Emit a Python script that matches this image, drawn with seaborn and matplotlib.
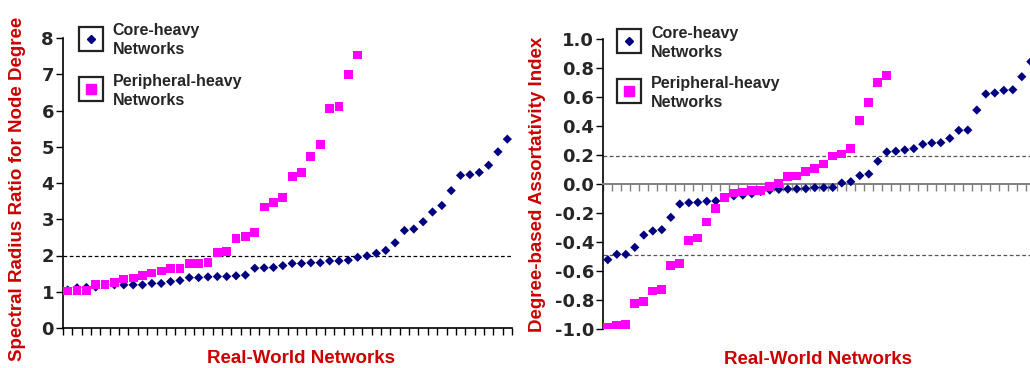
import numpy as np
import pandas as pd
import matplotlib
matplotlib.use("Agg")
import matplotlib.pyplot as plt
from matplotlib.lines import Line2D
from matplotlib.legend_handler import HandlerTuple
import seaborn as sns

# Spectral radius ratio for node degree, networks sorted in ascending order
spectral_core = [1.05, 1.11, 1.12, 1.13, 1.19, 1.19, 1.19, 1.19, 1.19, 1.23,
                 1.23, 1.28, 1.31, 1.39, 1.39, 1.41, 1.42, 1.42, 1.44, 1.46,
                 1.65, 1.66, 1.67, 1.72, 1.78, 1.78, 1.80, 1.80, 1.85, 1.85,
                 1.87, 1.95, 1.99, 2.06, 2.14, 2.35, 2.69, 2.73, 2.93, 3.20,
                 3.38, 3.79, 4.21, 4.23, 4.29, 4.49, 4.86, 5.21]
spectral_peripheral = [1.02, 1.03, 1.04, 1.19, 1.20, 1.26, 1.35, 1.38, 1.44, 1.52,
                       1.57, 1.65, 1.65, 1.77, 1.79, 1.80, 2.09, 2.12, 2.46, 2.52,
                       2.63, 3.34, 3.47, 3.60, 4.17, 4.28, 4.74, 5.07, 6.06, 6.12,
                       7.00, 7.53]

# Degree-based assortativity index, networks sorted in ascending order
assort_core = [-0.520, -0.483, -0.483, -0.435, -0.350, -0.322, -0.313, -0.228,
               -0.136, -0.127, -0.125, -0.117, -0.115, -0.090, -0.080, -0.075,
               -0.065, -0.050, -0.040, -0.035, -0.033, -0.032, -0.030, -0.023,
               -0.023, -0.022, 0.009, 0.018, 0.060, 0.071, 0.159, 0.223,
               0.228, 0.237, 0.246, 0.276, 0.285, 0.287, 0.317, 0.372,
               0.374, 0.512, 0.623, 0.630, 0.648, 0.652, 0.742, 0.846]
assort_peripheral = [-0.986, -0.975, -0.966, -0.823, -0.810, -0.736, -0.724, -0.561,
                     -0.547, -0.389, -0.370, -0.260, -0.168, -0.092, -0.060, -0.053,
                     -0.044, -0.044, -0.014, 0.008, 0.053, 0.057, 0.087, 0.110,
                     0.140, 0.195, 0.209, 0.246, 0.439, 0.565, 0.700, 0.752]

series_names = ["Core-heavy", "Peripheral-heavy"]
legend_labels = ["Core-heavy\nNetworks", "Peripheral-heavy\nNetworks"]
spectral_ticks = [0, 1, 2, 3, 4, 5, 6, 7, 8]
assort_ticks = [1.0, 0.8, 0.6, 0.4, 0.2, 0.0, -0.2, -0.4, -0.6, -0.8, -1.0]
spectral_threshold = [2.0]
assort_thresholds = [0.195, -0.49]
n_networks = 48

NAVY = "#000080"
MAGENTA = "#FF00FF"
RED = "#CC0000"

sns.set_theme(style="white")
plt.rcParams["font.family"] = ["Liberation Sans", "DejaVu Sans"]
plt.rcParams["font.weight"] = "bold"


def long_frame(core, peripheral):
    return pd.concat([
        pd.DataFrame({"network": np.arange(len(core)), "value": core,
                      "group": series_names[0]}),
        pd.DataFrame({"network": np.arange(len(peripheral)), "value": peripheral,
                      "group": series_names[1]}),
    ], ignore_index=True)


def draw_points(ax, df):
    sns.scatterplot(data=df, x="network", y="value", hue="group", style="group",
                    palette={series_names[0]: NAVY, series_names[1]: MAGENTA},
                    markers={series_names[0]: "D", series_names[1]: "s"},
                    size="group", sizes={series_names[0]: 22, series_names[1]: 40},
                    linewidth=0, legend=False, ax=ax, zorder=3)


def boxed_legend(ax, anchor):
    frame = Line2D([], [], ls="none", marker="s", markersize=17.5,
                   markerfacecolor="none", markeredgecolor="#222222",
                   markeredgewidth=1.6)
    core = Line2D([], [], ls="none", marker="D", markersize=4.2,
                  markerfacecolor=NAVY, markeredgecolor=NAVY)
    peri = Line2D([], [], ls="none", marker="s", markersize=6.5,
                  markerfacecolor=MAGENTA, markeredgecolor=MAGENTA)
    leg = ax.legend(handles=[(frame, core), (frame, peri)], labels=legend_labels,
                    handler_map={tuple: HandlerTuple(ndivide=1, pad=0)},
                    loc="upper left", bbox_to_anchor=anchor, frameon=False,
                    fontsize=11.5, handlelength=1.6, handleheight=1.6,
                    handletextpad=0.55, labelspacing=1.05, borderpad=0,
                    borderaxespad=0)
    for txt in leg.get_texts():
        txt.set_linespacing(1.32)


def category_ticks(ax, color):
    ax.set_xlim(-0.5, n_networks - 0.5)
    ax.set_xticks(np.arange(n_networks + 1) - 0.5)
    ax.set_xticklabels([])
    ax.tick_params(axis="x", direction="out", length=5, width=1.0,
                   color=color, bottom=True)
    ax.set_xlabel("")


fig = plt.figure(figsize=(10.30, 3.68), dpi=100)

# ---- left panel: spectral radius ratio ----
ax1 = fig.add_axes([63 / 1030, 40 / 368, 449 / 1030, 290 / 368])
draw_points(ax1, long_frame(spectral_core, spectral_peripheral))
ax1.axhline(spectral_threshold[0], color="black", lw=0.9, ls=(0, (3, 2)), zorder=1)
ax1.set_ylim(0, 8)
ax1.set_yticks(spectral_ticks)
ax1.set_yticklabels([str(t) for t in spectral_ticks],
                    fontfamily="DejaVu Sans", fontweight="bold", fontsize=13)
category_ticks(ax1, "black")
ax1.tick_params(axis="y", direction="out", length=5, width=1.0, color="black",
                left=True, pad=1.5)
for side in ["top", "right"]:
    ax1.spines[side].set_visible(False)
for side in ["left", "bottom"]:
    ax1.spines[side].set_color("black")
    ax1.spines[side].set_linewidth(1.2)
ax1.set_ylabel("Spectral Radius Ratio for Node Degree", color=RED,
               fontsize=13.5, fontweight="bold")
ax1.yaxis.set_label_coords(-0.083, 0.48)
ax1.set_xlabel("Real-World Networks", color=RED, fontsize=13.5, fontweight="bold")
ax1.xaxis.set_label_coords(0.529, -0.075)
boxed_legend(ax1, (0.034, 1.05))

# ---- right panel: assortativity index ----
ax2 = fig.add_axes([603.3 / 1030, 38.7 / 368, 432 / 1030, 290 / 368])
draw_points(ax2, long_frame(assort_core, assort_peripheral))
for yv in assort_thresholds:
    ax2.axhline(yv, color="#555555", lw=0.9, ls=(0, (3, 2)), zorder=1)
ax2.set_ylim(-1.0, 1.0)
ax2.set_yticks(assort_ticks)
ax2.set_yticklabels([f"{t:.1f}" for t in assort_ticks],
                    fontfamily="DejaVu Sans", fontweight="bold", fontsize=13)
category_ticks(ax2, "#808080")
ax2.tick_params(axis="y", direction="out", length=5, width=1.0, color="black",
                left=True, pad=1.5)
ax2.spines["bottom"].set_position(("data", 0))
ax2.spines["bottom"].set_color("#808080")
ax2.spines["bottom"].set_linewidth(1.4)
ax2.spines["left"].set_color("black")
ax2.spines["left"].set_linewidth(1.2)
for side in ["top", "right"]:
    ax2.spines[side].set_visible(False)
ax2.set_ylabel("Degree-based Assortativity Index", color=RED,
               fontsize=13.5, fontweight="bold")
ax2.yaxis.set_label_coords(-0.133, 0.5)
ax2.set_xlabel("Real-World Networks", color=RED, fontsize=13.5, fontweight="bold")
ax2.xaxis.set_label_coords(0.497, -0.075)
boxed_legend(ax2, (0.031, 1.047))

fig.savefig("out.png", dpi=100)
